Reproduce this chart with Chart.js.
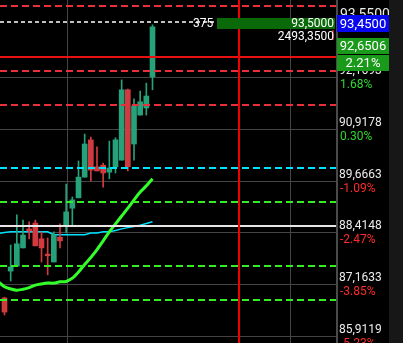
<!DOCTYPE html>
<html>
<head>
<meta charset="utf-8">
<script src="https://cdn.jsdelivr.net/npm/chart.js@4.4.1/dist/chart.umd.min.js"></script>
<style>
  html, body { margin: 0; padding: 0; background: #000; overflow: hidden; }
  canvas { display: block; }
</style>
</head>
<body>
<canvas id="chart" width="403" height="343"></canvas>
<script>
// candles, one per bar index
const candleIdx = [0, 1, 2, 3, 4, 5, 6, 7, 8, 9, 10, 11, 12, 13, 14, 15, 16, 17, 18, 19, 20, 21, 22, 23, 24];
const opens  = [86.83, 87.48, 87.60, 88.04, 88.50, 88.64, 88.26, 87.89, 87.70, 88.30, 88.59, 89.00, 89.25, 89.75, 90.65, 90.00, 90.04, 89.87, 90.00, 90.16, 91.86, 90.55, 91.25, 91.42, 92.17];
const highs  = [86.85, 88.11, 88.84, 88.71, 88.67, 88.71, 88.43, 88.28, 88.43, 88.62, 89.58, 89.27, 90.14, 90.79, 90.72, 90.48, 90.09, 90.62, 90.70, 92.10, 91.88, 91.64, 91.83, 92.02, 93.43];
const lows   = [86.42, 87.24, 87.60, 88.04, 88.26, 88.09, 87.70, 87.39, 87.70, 88.04, 88.40, 88.59, 89.25, 89.75, 89.66, 89.90, 89.51, 89.71, 89.85, 90.16, 89.90, 90.16, 91.25, 91.25, 91.86];
const closes = [86.49, 87.58, 88.14, 88.35, 88.45, 88.09, 88.04, 87.85, 88.35, 88.21, 88.91, 89.20, 89.75, 90.55, 89.92, 89.90, 89.85, 89.97, 90.65, 91.86, 90.00, 91.47, 91.57, 91.71, 93.38];

// moving averages (first point is the bar just left of the screen)
const maIdx  = [-1, 0, 1, 2, 3, 4, 5, 6, 7, 8, 9, 10, 11, 12, 13, 14, 15, 16, 17, 18, 19, 20, 21, 22, 23, 24];
const maFast = [87.22, 87.10, 87.05, 87.02, 87.04, 87.08, 87.14, 87.17, 87.19, 87.19, 87.22, 87.23, 87.31, 87.46, 87.64, 87.81, 88.00, 88.21, 88.43, 88.62, 88.81, 89.00, 89.20, 89.39, 89.54, 89.71];
const maSlow = [88.39, 88.41, 88.43, 88.43, 88.43, 88.43, 88.43, 88.43, 88.43, 88.36, 88.36, 88.36, 88.36, 88.36, 88.36, 88.40, 88.40, 88.43, 88.43, 88.46, 88.50, 88.53, 88.56, 88.59, 88.63, 88.67];

// price axis
const yTicks      = [92.1693, 90.9178, 89.6663, 88.4148, 87.1633, 85.9119];
const yTickLabels = ["92,1693", "90,9178", "89,6663", "88,4148", "87,1633", "85,9119"];
const pctLabels   = ["1.68%", "0.30%", "-1.09%", "-2.47%", "-3.85%", "-5.23%"];
const xGrid = [10.13, 46.3];

// horizontal levels
const redDashLevels    = [93.885, 92.314, 91.493];
const redSolidLevels   = [92.6506];
const cyanDashLevels   = [89.971];
const greenDashLevels  = [89.149, 87.603, 86.782];
const whiteSolidLevels = [88.57];
const whiteDashLevels  = [93.50];
const redMarkerIdx     = [38];

// order + price boxes
const orderQty = "375";
const orderPrice = "93,5000";
const orderValue = "2493,3500";
const topLabel = "93,5500";
const bidLabel = "93,4500";
const lastLabel = "92,6506";
const changeLabel = "2.21%";

const UP = "#26a17a", DOWN = "#d13b40";
const candleColors = opens.map((o, i) => closes[i] >= o ? UP : DOWN);

function hline(ctx, x1, x2, y) { ctx.beginPath(); ctx.moveTo(x1, y); ctx.lineTo(x2, y); ctx.stroke(); }
function vline(ctx, x, y1, y2) { ctx.beginPath(); ctx.moveTo(x, y1); ctx.lineTo(x, y2); ctx.stroke(); }

const terminalPlugin = {
  id: "terminal",
  beforeDraw(chart) {
    const { ctx, width, height, chartArea: a } = chart;
    const x = chart.scales.x, y = chart.scales.y;
    ctx.save();
    ctx.fillStyle = "#000";
    ctx.fillRect(0, 0, width, height);

    // grid
    ctx.strokeStyle = "#444";
    ctx.lineWidth = 1;
    yTicks.forEach(v => hline(ctx, a.left, a.right, Math.round(y.getPixelForValue(v)) + 0.5));
    xGrid.forEach(v => vline(ctx, Math.round(x.getPixelForValue(v)) + 0.5, a.top, a.bottom));
    ctx.strokeStyle = "#4a4a4a";
    ctx.lineWidth = 2;
    vline(ctx, a.right + 1, 0, height);
    ctx.restore();
  },
  afterDatasetsDraw(chart) {
    const { ctx, chartArea: a } = chart;
    const x = chart.scales.x, y = chart.scales.y;
    ctx.save();
    const levels = (vals, color, dash, w) => {
      ctx.strokeStyle = color;
      ctx.lineWidth = w;
      ctx.setLineDash(dash);
      vals.forEach(v => hline(ctx, a.left, a.right, Math.round(y.getPixelForValue(v))));
    };
    levels(whiteDashLevels, "#ffffff", [4, 3], 1.5);
    levels(redDashLevels, "#e8303a", [7, 4], 2);
    levels(redSolidLevels, "#e81010", [], 2);
    levels(cyanDashLevels, "#00e5ff", [7, 4], 2);
    levels(greenDashLevels, "#33ee22", [7, 4], 2);
    levels(whiteSolidLevels, "#e6e6e6", [], 2);
    ctx.setLineDash([]);
    ctx.strokeStyle = "#f00000";
    ctx.lineWidth = 2;
    redMarkerIdx.forEach(v => vline(ctx, Math.round(x.getPixelForValue(v)), a.top, a.bottom));
    ctx.restore();
  },
  afterDraw(chart) {
    const { ctx, width, height, chartArea: a } = chart;
    const y = chart.scales.y;
    ctx.save();
    ctx.textBaseline = "middle";

    // pending order tag
    const oy = Math.round(y.getPixelForValue(whiteDashLevels[0]));
    ctx.fillStyle = "#0a6a0a";
    ctx.fillRect(217, oy - 4, a.right - 218, 11);
    ctx.fillStyle = "#9a1c1c";
    ctx.fillRect(a.right - 4, oy + 8, 2, 10);
    ctx.font = "12px Roboto";
    ctx.fillStyle = "#ffffff";
    ctx.textAlign = "left";
    ctx.fillText(orderQty, 193, oy + 2);
    ctx.textAlign = "right";
    ctx.fillText(orderPrice, a.right - 2, oy + 2);
    ctx.fillText(orderValue, a.right - 2, oy + 15);

    // right price axis
    const ax = a.right + 3;
    ctx.textAlign = "left";
    ctx.fillStyle = "#ececec";
    ctx.font = "14px Roboto";
    ctx.fillText(topLabel, ax + 1, 15);
    ctx.font = "12px Roboto";
    yTicks.forEach((v, i) => {
      const py = Math.round(y.getPixelForValue(v));
      ctx.fillStyle = "#ececec";
      ctx.fillText(yTickLabels[i], ax, py - 6);
      ctx.fillStyle = pctLabels[i].startsWith("-") ? "#ff2a2a" : "#2fd82f";
      ctx.fillText(pctLabels[i], ax + 1, py + 8);
    });

    // price boxes
    const bx = a.right + 1, bw = 52;
    const box = (top, h, color, text) => {
      ctx.fillStyle = color;
      ctx.fillRect(bx, top, bw, h);
      ctx.fillStyle = "#ffffff";
      ctx.textAlign = "center";
      ctx.font = "13px Roboto";
      ctx.fillText(text, bx + bw / 2, top + h / 2 + 1);
    };
    box(15, 17, "#0808f0", bidLabel);
    box(38, 16, "#1a9a1a", lastLabel);
    box(55, 16, "#1a9a1a", changeLabel);

    // scrollbar strip at the far right
    ctx.fillStyle = "#171717";
    ctx.fillRect(a.right + 53, 0, width, height);
    ctx.restore();
  }
};

new Chart(document.getElementById("chart"), {
  type: "bar",
  data: {
    datasets: [
      {
        type: "line",
        data: maIdx.map((x, i) => ({ x, y: maFast[i] })),
        borderColor: "#33ff2a",
        borderWidth: 3,
        pointRadius: 0,
        tension: 0.3,
        order: 0
      },
      {
        data: candleIdx.map((x, i) => ({ x, y: [opens[i], closes[i]] })),
        backgroundColor: candleColors,
        barThickness: 5,
        grouped: false,
        borderWidth: 0,
        borderSkipped: false,
        order: 1
      },
      {
        data: candleIdx.map((x, i) => ({ x, y: [lows[i], highs[i]] })),
        backgroundColor: candleColors,
        barThickness: 1,
        grouped: false,
        borderWidth: 0,
        borderSkipped: false,
        order: 2
      },
      {
        type: "line",
        data: maIdx.map((x, i) => ({ x, y: maSlow[i] })),
        borderColor: "#00e1ff",
        borderWidth: 1.5,
        pointRadius: 0,
        tension: 0,
        order: 3
      }
    ]
  },
  options: {
    responsive: false,
    animation: false,
    layout: { padding: { left: 0, right: 67, top: 0, bottom: 0 } },
    scales: {
      x: { type: "linear", min: -0.73, max: 53.757, offset: false, display: false },
      y: { type: "linear", min: 85.7427, max: 94.0296, beginAtZero: false, display: false }
    },
    plugins: {
      legend: { display: false },
      tooltip: { enabled: false }
    }
  },
  plugins: [terminalPlugin]
});
</script>
</body>
</html>
